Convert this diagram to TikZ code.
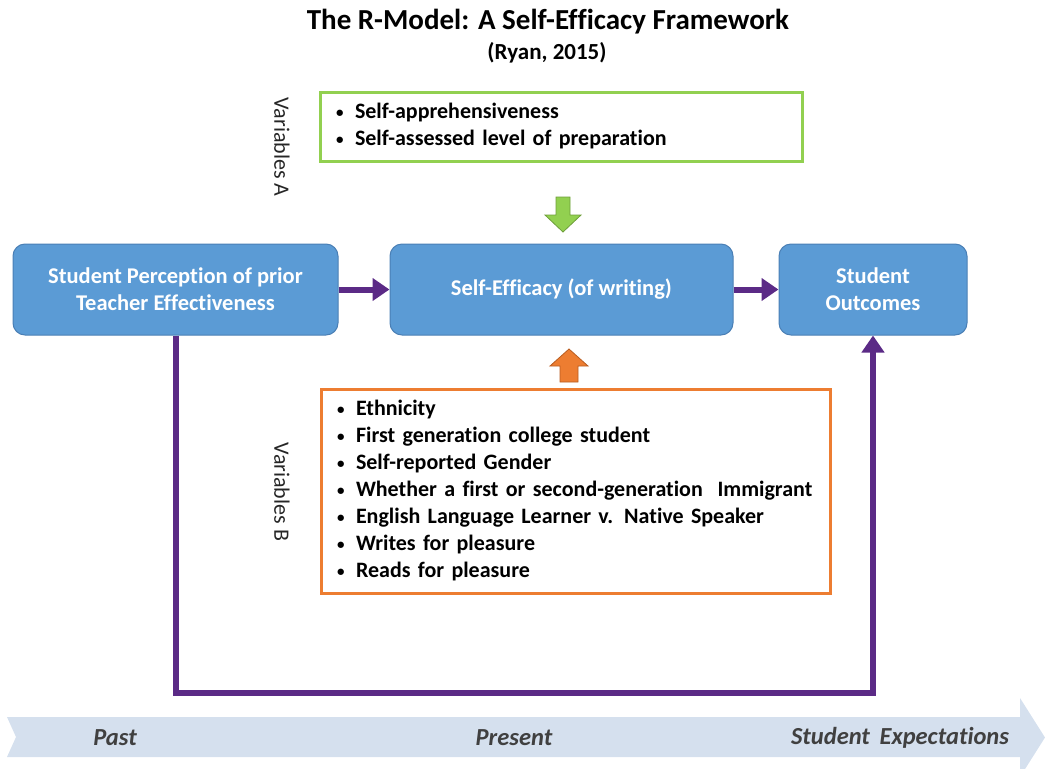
\documentclass[tikz,border=0pt]{standalone}
\usepackage{fontspec}
\setmainfont{Carlito}[Ligatures=NoCommon]
\usetikzlibrary{arrows.meta}
\definecolor{boxblue}{HTML}{5B9BD5}
\definecolor{boxedge}{HTML}{4A7FB5}
\definecolor{vgreen}{HTML}{92D050}
\definecolor{vgreenedge}{HTML}{6E9E3A}
\definecolor{vorange}{HTML}{ED7D31}
\definecolor{vorangeedge}{HTML}{B85C20}
\definecolor{vpurple}{HTML}{5B2A86}
\definecolor{tline}{HTML}{D5E0EE}
\definecolor{tltext}{HTML}{404040}
\tikzset{
  bluebox/.style={draw=boxedge, line width=1pt, fill=boxblue, rounded corners=12pt, text=white,
     font=\fontsize{22.5}{27}\selectfont\bfseries, align=center, minimum height=91pt, inner sep=0pt},
  listbox/.style={line width=3pt, fill=white, align=left, font=\fontsize{22}{27}\selectfont\bfseries,
     inner xsep=15pt, inner ysep=0pt, text=black},
  flow/.style={draw=vpurple, line width=6pt, -{Triangle[length=17pt,width=22pt]}},
  varlabel/.style={rotate=-90, font=\fontsize{22}{24}\selectfont, text=black!85},
  tllabel/.style={font=\fontsize{24.5}{28}\selectfont\bfseries\itshape, text=tltext},
}
\newcommand{\bl}{\makebox[20pt][l]{\hspace{1pt}\raisebox{1.5pt}{\fontsize{15}{15}\selectfont\textbullet}}}
\begin{document}
\begin{tikzpicture}[x=1pt,y=-1pt]
\useasboundingbox (0,0) rectangle (1045,769);
\begin{scope}
\clip (0,0) rectangle (1045,769);
% timeline
\fill[tline] (7,717) -- (1020,717) -- (1020,698) -- (1045,737.5) -- (1020,777) -- (1020,757) -- (7,757) -- (16,737) -- cycle;
\end{scope}
\node[tllabel] (past) at (115,738) {Past};
\node[tllabel] (present) at (514,738) {Present};
\node[tllabel] (future) at (900,738) {Student\, Expectations};

% title
\node[font=\fontsize{29}{32}\selectfont\bfseries] (title) at (548,22) {The R-Model: A Self-Efficacy Framework};
\node[font=\fontsize{23}{26}\selectfont\bfseries] (sub) at (547,53) {(Ryan, 2015)};

% main boxes
\node[bluebox, minimum width=325pt] (left) at (175.5,289.5) {Student Perception of prior\\Teacher Effectiveness};
\node[bluebox, minimum width=343pt] (mid) at (561.5,289.5) {Self-Efficacy (of writing)};
\node[bluebox, minimum width=188pt] (right) at (873,289.5) {Student\\Outcomes};

% variable boxes
\node[listbox, draw=vgreen, text width=452pt, minimum height=69pt] (va) at (561,126.5)
  {\bl Self-apprehensiveness\\ \bl Self-assessed level of preparation};
\node[listbox, draw=vorange, text width=479pt, minimum height=204pt] (vb) at (575.5,491)
  {\bl Ethnicity\\
   \bl First generation college student\\
   \bl Self-reported Gender\\
   \bl Whether a first or second-generation\ \ Immigrant\\
   \bl English Language Learner v. Native Speaker\\
   \bl Writes for pleasure\\
   \bl Reads for pleasure};

\node[varlabel] (la) at (282,147) {Variables A};
\node[varlabel] (lb) at (282,492) {Variables B};

% block arrows
\filldraw[fill=vgreen, draw=vgreenedge, line width=0.8pt]
  (556,197) -- (570,197) -- (570,215) -- (581,215) -- (563,232) -- (545,215) -- (556,215) -- cycle;
\filldraw[fill=vorange, draw=vorangeedge, line width=0.8pt]
  (560,382) -- (578,382) -- (578,366) -- (588,366) -- (569,349) -- (550,366) -- (560,366) -- cycle;

% connectors
\draw[flow] (left.east) -- (mid.west);
\draw[flow] (mid.east) -- (right.west);
\draw[flow, rounded corners=0pt] (left.south) -- ++(0,357) -| (right.south);
\end{tikzpicture}
\end{document}
